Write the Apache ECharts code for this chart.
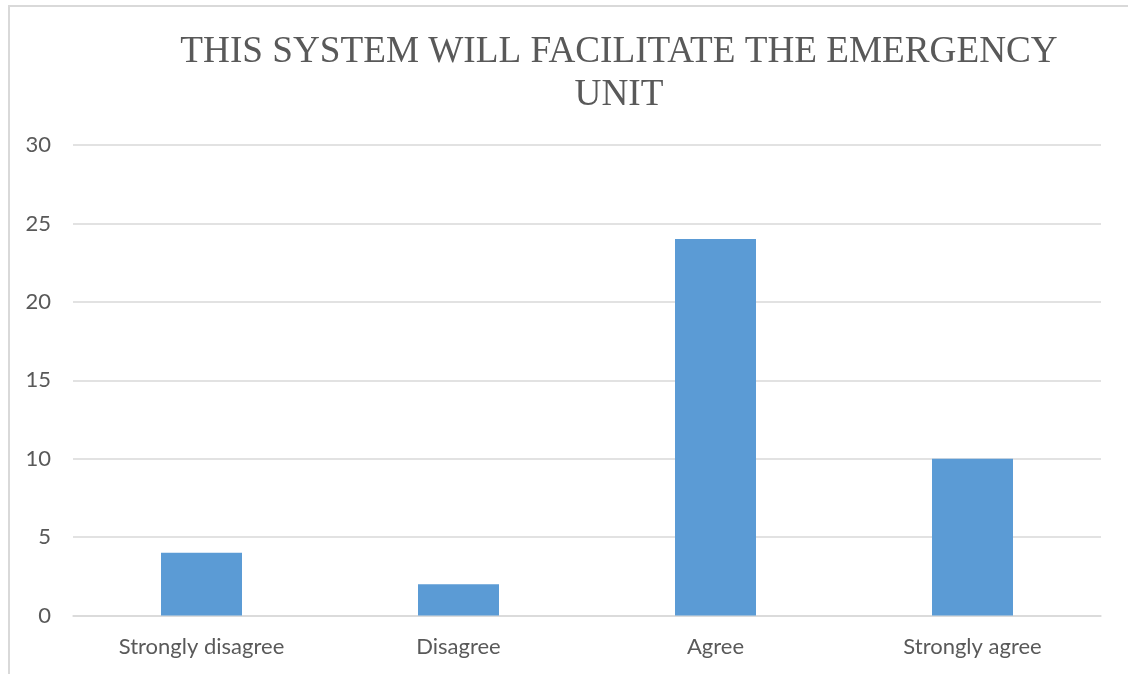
<!DOCTYPE html>
<html>
<head>
<meta charset="utf-8">
<style>
  html, body { margin: 0; padding: 0; background: #ffffff; }
  #chart { width: 1128px; height: 674px; }
</style>
<script src="https://cdn.jsdelivr.net/npm/echarts@6/dist/echarts.min.js"></script>
</head>
<body>
<div id="chart"></div>
<script>
// Survey responses: "This system will facilitate the emergency unit"
const categories = ['Strongly disagree', 'Disagree', 'Agree', 'Strongly agree'];
const responses = [4, 2, 24, 10];
const titleLines = ['THIS SYSTEM WILL FACILITATE THE EMERGENCY', 'UNIT'];

const chart = echarts.init(document.getElementById('chart'), null, { renderer: 'canvas' });

chart.setOption({
  backgroundColor: '#ffffff',
  animation: false,
  title: {
    text: titleLines.join('\n'),
    left: 614,
    top: 26,
    textAlign: 'center',
    textStyle: {
      fontFamily: '"Liberation Serif", "Times New Roman", serif',
      fontSize: 37.2,
      fontWeight: 'normal',
      color: '#595959',
      lineHeight: 43
    }
  },
  graphic: [{
    type: 'polyline',
    shape: { points: [[9, 674], [9, 6], [1128, 6]] },
    style: { stroke: '#d9d9d9', lineWidth: 2, fill: null },
    silent: true
  }],
  grid: {
    left: 73,
    right: 27,
    top: 145,
    bottom: 58.5,
    containLabel: false
  },
  xAxis: {
    type: 'category',
    data: categories,
    axisLine: { show: true, lineStyle: { color: '#d9d9d9', width: 1.5 } },
    axisTick: { show: false },
    axisLabel: {
      color: '#595959',
      fontFamily: 'Lato, "Open Sans", sans-serif',
      fontSize: 22,
      margin: 20
    }
  },
  yAxis: {
    type: 'value',
    min: 0,
    max: 30,
    interval: 5,
    axisLine: { show: false },
    axisTick: { show: false },
    splitLine: { lineStyle: { color: '#d9d9d9', width: 1.5 } },
    axisLabel: {
      color: '#595959',
      fontFamily: 'Lato, "Open Sans", sans-serif',
      fontSize: 22,
      margin: 22
    }
  },
  series: [{
    type: 'bar',
    data: responses,
    barWidth: 81,
    itemStyle: { color: '#5b9bd5' }
  }]
});
</script>
</body>
</html>
